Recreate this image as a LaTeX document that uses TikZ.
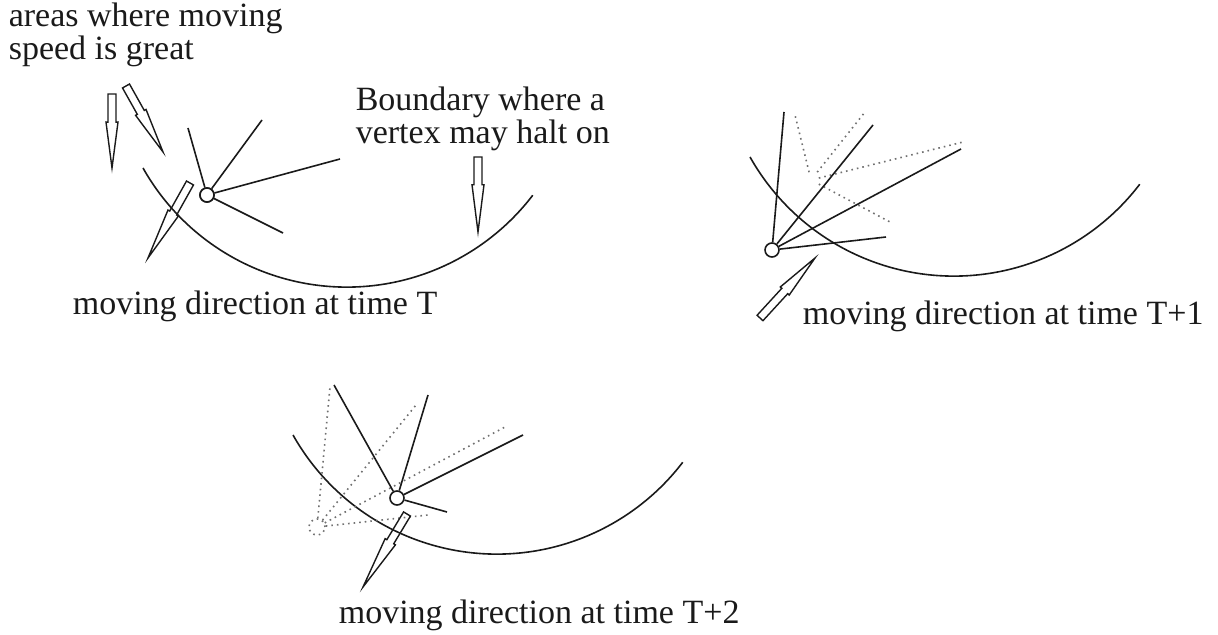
\documentclass[tikz,border=0pt]{standalone}
\usepackage{fontspec}
\setmainfont{Liberation Serif}
\usetikzlibrary{calc}
\definecolor{Ink}{HTML}{1A1A1A}
\definecolor{Ghost}{HTML}{707070}
% hollow arrow: tail, tip, where the head starts
\newcommand{\hollowarrow}[3]{%
\path (#1) -- coordinate[pos=#3] (headbase) (#2);
\draw[arrowline] ($(#1)!2pt!90:(#2)$) -- ($(headbase)!2pt!90:(#2)$) -- ($(headbase)!3pt!90:(#2)$) -- (#2) -- ($(headbase)!3pt!-90:(#2)$) -- ($(headbase)!2pt!-90:(#2)$) -- ($(#1)!2pt!-90:(#2)$) -- cycle;}

\begin{document}
\begin{tikzpicture}[x=0.5pt,y=-0.5pt,line width=0.8pt,font=\fontsize{17}{16.5}\selectfont,
vertex/.style={circle,draw=Ink,fill=white,inner sep=0pt,minimum size=7pt},
oldvertex/.style={circle,draw=Ghost,dotted,inner sep=0pt,minimum size=8pt},
spoke/.style={draw=Ink},
oldspoke/.style={draw=Ghost,dotted},
note/.style={anchor=base west,inner sep=0pt,align=left,text=Ink},
arrowline/.style={draw=Ink,line width=0.7pt,line join=miter}]
\useasboundingbox (0,0) rectangle (1218,635);
% boundaries
\foreach \s in {(143,168),(750,157),(293,435)}
\draw[Ink] \s arc[start angle=150.6,end angle=37.4,radius=234];
% time T
\node[vertex] (v1) at (207,195) {};
\foreach \p in {(188,128),(262,120),(340,159),(283,233)} \draw[spoke] (v1) -- \p;
\node[vertex] at (v1) {};
% (base of a two-line note is its last line)
\node[note] (areas) at (8,60) {areas where moving\\speed is great};
\node[note] (bound) at (355,144) {Boundary where a\\vertex may halt on};
\node[note] (capT) at (72,315) {moving direction at time T};
\coordinate (fastTailA) at (112,94); \coordinate (fastTipA) at (112,168);
\coordinate (fastTailB) at (126,86); \coordinate (fastTipB) at (163,152);
\coordinate (boundTail) at (478,157); \coordinate (boundTip) at (478,232);
\coordinate (dirTail1) at (190,183); \coordinate (dirTip1) at (148,258);
\hollowarrow{fastTailA}{fastTipA}{0.38}
\hollowarrow{fastTailB}{fastTipB}{0.4}
\hollowarrow{boundTail}{boundTip}{0.37}
\hollowarrow{dirTail1}{dirTip1}{0.4}
% time T+1
\node[inner sep=0pt,minimum size=7pt] (old2) at (811,180) {};
\foreach \p in {(795,115),(865,112),(963,142),(890,222)} \draw[oldspoke] (old2) -- \p;
\node[vertex] (v2) at (772,250) {};
\foreach \p in {(784,112),(873,125),(961,149),(886,237)} \draw[spoke] (v2) -- \p;
\node[note] (capT1) at (802,325) {moving direction at time T+1};
\coordinate (dirTail2) at (760,318); \coordinate (dirTip2) at (815,258);
\hollowarrow{dirTail2}{dirTip2}{0.45}
% time T+2
\node[oldvertex] (old3) at (317,527) {};
\foreach \p in {(330,387),(416,405),(505,427),(428,515)} \draw[oldspoke] (old3) -- \p;
\node[vertex] (v3) at (397,498) {};
\foreach \p in {(334,385),(428,395),(523,435),(447,512)} \draw[spoke] (v3) -- \p;
\node[note] (capT2) at (338,623) {moving direction at time T+2};
\coordinate (dirTail3) at (407,514); \coordinate (dirTip3) at (363,587);
\hollowarrow{dirTail3}{dirTip3}{0.38}
\end{tikzpicture}
\end{document}
